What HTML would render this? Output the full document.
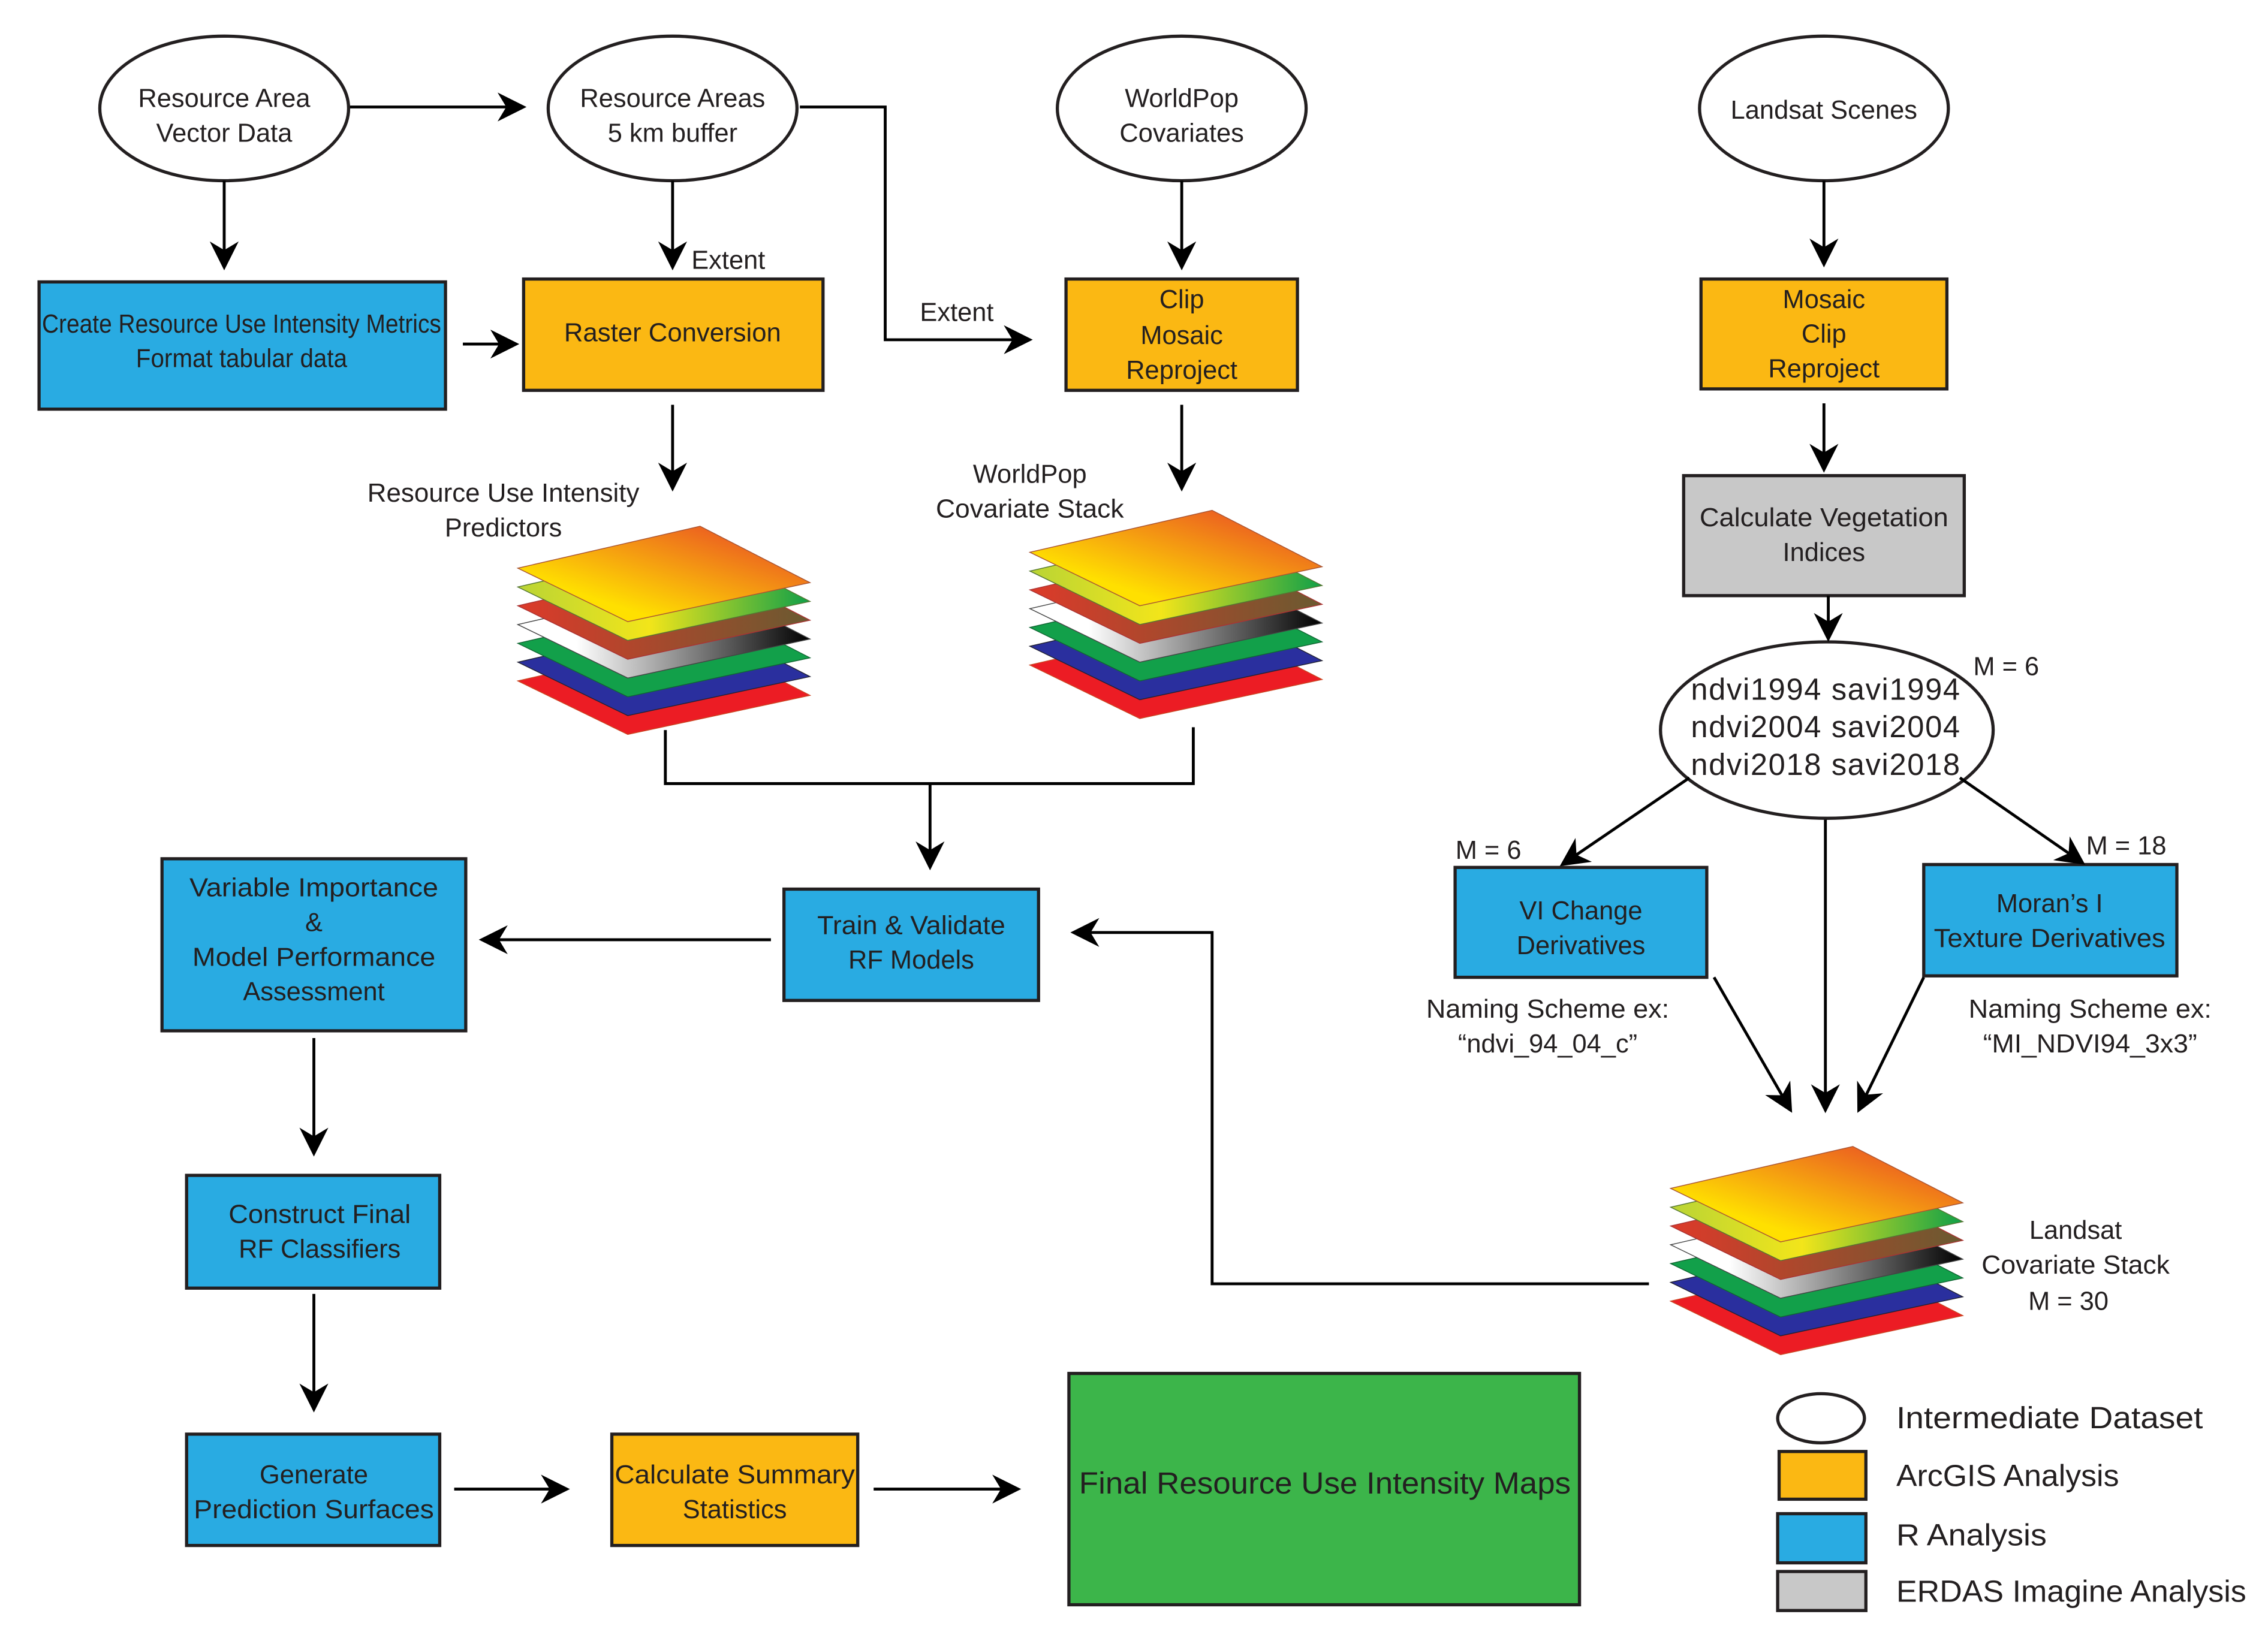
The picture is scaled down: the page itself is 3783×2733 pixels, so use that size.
<!DOCTYPE html>
<html><head><meta charset="utf-8"><style>
html,body{margin:0;padding:0;background:#fff}
svg{display:block}
text{font-family:"Liberation Sans",sans-serif;fill:#231f20}
</style></head><body>
<svg width="3783" height="2733" viewBox="0 0 1568 1133" preserveAspectRatio="none" xmlns="http://www.w3.org/2000/svg">
<defs>
<marker id="b" viewBox="0 0 10 10" refX="9" refY="5" markerWidth="20" markerHeight="20" markerUnits="userSpaceOnUse" orient="auto"><path d="M0,0 L10,5 L0,10 L3,5 z" fill="#000"/></marker>
<linearGradient id="g1" x1="0" y1="1" x2="1" y2="0"><stop offset="0.25" stop-color="#ffe000"/><stop offset="1" stop-color="#e63a2a"/></linearGradient>
<linearGradient id="g2" x1="0" y1="0" x2="1" y2="0"><stop offset="0" stop-color="#b9d435"/><stop offset="0.45" stop-color="#f2e51a"/><stop offset="1" stop-color="#10a048"/></linearGradient>
<linearGradient id="g3" x1="0" y1="0" x2="1" y2="0"><stop offset="0" stop-color="#dd3a2a"/><stop offset="1" stop-color="#6a5a30"/></linearGradient>
<linearGradient id="g4" x1="0" y1="0" x2="1" y2="0"><stop offset="0.2" stop-color="#ffffff"/><stop offset="1" stop-color="#000000"/></linearGradient>
<g id="stk">
<path d="M0,107 L126,78 L202,117 L76,144 z" fill="#ec1c24" stroke="#c42" stroke-width="0.6"/>
<path d="M0,94 L126,65 L202,104 L76,131 z" fill="#2a2f9e" stroke="#223" stroke-width="0.6"/>
<path d="M0,81 L126,52 L202,91 L76,118 z" fill="#12a04a" stroke="#163" stroke-width="0.6"/>
<path d="M0,68 L126,39 L202,78 L76,105 z" fill="url(#g4)" stroke="#444" stroke-width="0.6"/>
<path d="M0,55 L126,26 L202,65 L76,92 z" fill="url(#g3)" stroke="#a33" stroke-width="0.6"/>
<path d="M0,42 L126,13 L202,52 L76,79 z" fill="url(#g2)" stroke="#573" stroke-width="0.6"/>
<path d="M0,29 L126,0 L202,39 L76,66 z" fill="url(#g1)" stroke="#a53" stroke-width="0.6"/>
</g>
</defs>
<g fill="#fff" stroke="#231f20" stroke-width="2.2">
<ellipse cx="155" cy="75" rx="86" ry="50"/>
<ellipse cx="465" cy="75" rx="86" ry="50"/>
<ellipse cx="817" cy="75" rx="86" ry="50"/>
<ellipse cx="1261" cy="75" rx="86" ry="50"/>
<ellipse cx="1263" cy="505" rx="115" ry="61"/>
<rect x="27" y="195" width="281" height="88" fill="#29abe2"/>
<rect x="362" y="193" width="207" height="77" fill="#fbb813"/>
<rect x="737" y="193" width="160" height="77" fill="#fbb813"/>
<rect x="1176" y="193" width="170" height="76" fill="#fbb813"/>
<rect x="1164" y="329" width="194" height="83" fill="#c8c8c8"/>
<rect x="1006" y="600" width="174" height="76" fill="#29abe2"/>
<rect x="1330" y="598" width="175" height="77" fill="#29abe2"/>
<rect x="542" y="615" width="176" height="77" fill="#29abe2"/>
<rect x="112" y="594" width="210" height="119" fill="#29abe2"/>
<rect x="129" y="813" width="175" height="78" fill="#29abe2"/>
<rect x="129" y="992" width="175" height="77" fill="#29abe2"/>
<rect x="423" y="992" width="170" height="77" fill="#fbb813"/>
<rect x="739" y="950" width="353" height="160" fill="#3cb54a"/>
<ellipse cx="1259" cy="981" rx="30" ry="17"/>
<rect x="1230" y="1004" width="60" height="33" fill="#fbb813"/>
<rect x="1229" y="1047" width="61" height="34" fill="#29abe2"/>
<rect x="1229" y="1087" width="61" height="27" fill="#c8c8c8"/>
</g>
<use href="#stk" x="358" y="364"/>
<use href="#stk" x="712" y="353"/>
<use href="#stk" x="1155" y="793"/>
<g fill="none" stroke="#000" stroke-width="2" marker-end="url(#b)">
<path d="M242,74 H362"/>
<path d="M155,125 V185"/>
<path d="M465,125 V185"/>
<path d="M553,74 H612 V235 H712"/>
<path d="M817,125 V185"/>
<path d="M1261,125 V183"/>
<path d="M320,238 H357"/>
<path d="M465,280 V338"/>
<path d="M817,280 V338"/>
<path d="M1261,279 V325"/>
<path d="M1264,412 V442"/>
<path d="M1168,538 L1080,598"/>
<path d="M1355,538 L1440,597"/>
<path d="M1262,567 V768"/>
<path d="M1185,676 L1238,768"/>
<path d="M1330,676 L1285,768"/>
<path d="M1140,888 H838 V645 H742"/>
<path d="M643,542 V600"/>
<path d="M533,650 H333"/>
<path d="M217,718 V798"/>
<path d="M217,895 V975"/>
<path d="M314,1030 H392"/>
<path d="M604,1030 H704"/>
</g>
<path d="M460,505 V542 H825 V503" fill="none" stroke="#000" stroke-width="2"/>
<g font-size="18" text-anchor="middle">
<text x="155" y="74">Resource Area</text><text x="155" y="98">Vector Data</text>
<text x="465" y="74">Resource Areas</text><text x="465" y="98">5 km buffer</text>
<text x="817" y="74">WorldPop</text><text x="817" y="98">Covariates</text>
<text x="1261" y="82">Landsat Scenes</text>
<text x="167" y="230" textLength="276" lengthAdjust="spacingAndGlyphs">Create Resource Use Intensity Metrics</text>
<text x="167" y="254" textLength="146" lengthAdjust="spacingAndGlyphs">Format tabular data</text>
<text x="465" y="236" textLength="150" lengthAdjust="spacingAndGlyphs">Raster Conversion</text>
<text x="817" y="213">Clip</text><text x="817" y="238">Mosaic</text><text x="817" y="262">Reproject</text>
<text x="1261" y="213">Mosaic</text><text x="1261" y="237">Clip</text><text x="1261" y="261">Reproject</text>
<text x="1261" y="364" textLength="172" lengthAdjust="spacingAndGlyphs">Calculate Vegetation</text><text x="1261" y="388">Indices</text>
<text x="348" y="347" textLength="188" lengthAdjust="spacingAndGlyphs">Resource Use Intensity</text><text x="348" y="371">Predictors</text>
<text x="712" y="334">WorldPop</text><text x="712" y="358" textLength="130" lengthAdjust="spacingAndGlyphs">Covariate Stack</text>
<text x="1093" y="636">VI Change</text><text x="1093" y="660">Derivatives</text>
<text x="1417" y="631">Moran’s I</text><text x="1417" y="655" textLength="160" lengthAdjust="spacingAndGlyphs">Texture Derivatives</text>
<text x="1070" y="704" textLength="168" lengthAdjust="spacingAndGlyphs">Naming Scheme ex:</text><text x="1070" y="728">“ndvi_94_04_c”</text>
<text x="1445" y="704" textLength="168" lengthAdjust="spacingAndGlyphs">Naming Scheme ex:</text><text x="1445" y="728" textLength="148" lengthAdjust="spacingAndGlyphs">“MI_NDVI94_3x3”</text>
<text x="630" y="646" textLength="130" lengthAdjust="spacingAndGlyphs">Train &amp; Validate</text><text x="630" y="670">RF Models</text>
<text x="217" y="620" textLength="172" lengthAdjust="spacingAndGlyphs">Variable Importance</text><text x="217" y="644">&amp;</text>
<text x="217" y="668" textLength="168" lengthAdjust="spacingAndGlyphs">Model Performance</text><text x="217" y="692">Assessment</text>
<text x="221" y="846" textLength="126" lengthAdjust="spacingAndGlyphs">Construct Final</text><text x="221" y="870">RF Classifiers</text>
<text x="217" y="1026">Generate</text><text x="217" y="1050" textLength="166" lengthAdjust="spacingAndGlyphs">Prediction Surfaces</text>
<text x="508" y="1026" textLength="166" lengthAdjust="spacingAndGlyphs">Calculate Summary</text><text x="508" y="1050">Statistics</text>
<text x="916" y="1033" font-size="21" textLength="340" lengthAdjust="spacingAndGlyphs">Final Resource Use Intensity Maps</text>
<text x="1435" y="857">Landsat</text><text x="1435" y="881" textLength="130" lengthAdjust="spacingAndGlyphs">Covariate Stack</text><text x="1430" y="906">M = 30</text>
<text x="1387" y="467">M = 6</text>
<text x="1029" y="594">M = 6</text>
<text x="1470" y="591">M = 18</text>
</g>
<g font-size="18">
<text x="478" y="186">Extent</text>
<text x="636" y="222">Extent</text>
</g>
<g font-size="21" text-anchor="middle">
<text x="1262" y="484" textLength="186" lengthAdjust="spacing">ndvi1994  savi1994</text>
<text x="1262" y="510" textLength="186" lengthAdjust="spacing">ndvi2004  savi2004</text>
<text x="1262" y="536" textLength="186" lengthAdjust="spacing">ndvi2018  savi2018</text>
</g>
<g font-size="21">
<text x="1311" y="988" textLength="212" lengthAdjust="spacingAndGlyphs">Intermediate Dataset</text>
<text x="1311" y="1028" textLength="154" lengthAdjust="spacingAndGlyphs">ArcGIS Analysis</text>
<text x="1311" y="1069" textLength="104" lengthAdjust="spacingAndGlyphs">R Analysis</text>
<text x="1311" y="1108" textLength="242" lengthAdjust="spacingAndGlyphs">ERDAS Imagine Analysis</text>
</g>
</svg>
</body></html>
